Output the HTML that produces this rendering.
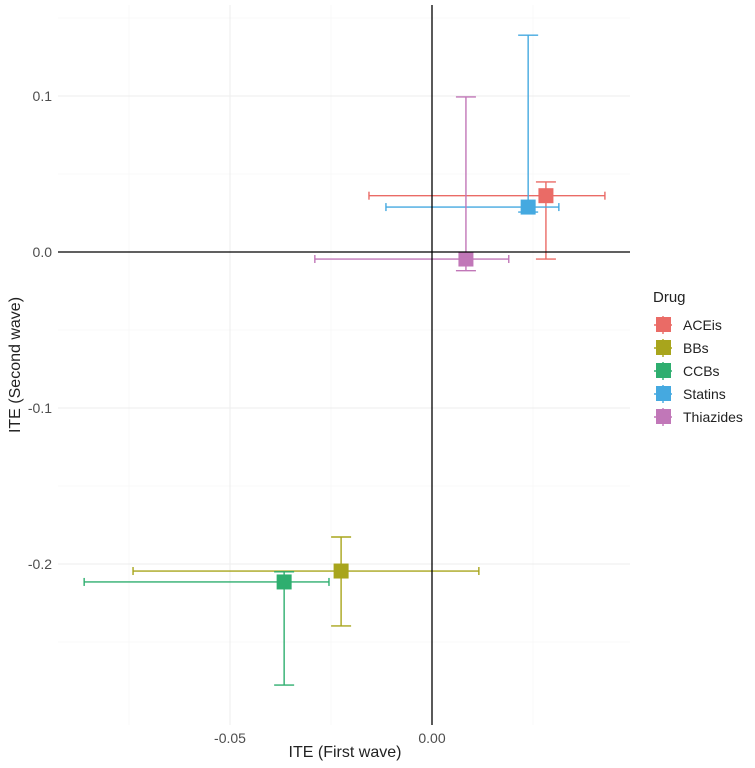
<!DOCTYPE html>
<html><head><meta charset="utf-8"><style>
body{margin:0;background:#fff;font-family:"Liberation Sans",sans-serif}
</style></head><body>
<svg id="chart" width="755" height="763" xmlns="http://www.w3.org/2000/svg">
<g id="grid"></g>
<g id="marks"></g>
<g id="axes"></g>
<text x="345" y="757" text-anchor="middle" font-size="16" fill="#222">ITE (First wave)</text>
<text transform="translate(20,365) rotate(-90)" text-anchor="middle" font-size="16" fill="#222">ITE (Second wave)</text>
<g id="legend"></g>
</svg>
<script>
const drugs=["ACEis","BBs","CCBs","Statins","Thiazides"];
const colors=["#EA6B66","#A8A51C","#2EAE6F","#45A9E0","#C177B8"];
const xVal=[0.0282,-0.0225,-0.0366,0.0238,0.0084];
const xLo=[-0.0156,-0.074,-0.0861,-0.0114,-0.029];
const xHi=[0.0428,0.0116,-0.0255,0.0314,0.019];
const yVal=[0.0361,-0.2045,-0.2115,0.0288,-0.0045];
const yLo=[-0.0045,-0.2397,-0.2776,0.0256,-0.012];
const yHi=[0.0449,-0.1827,-0.205,0.139,0.0994];
const xTicks=[-0.05,0.00];
const xTickLabels=["-0.05","0.00"];
const xMinor=[-0.075,-0.025,0.025];
const yTicks=[0.1,0.0,-0.1,-0.2];
const yTickLabels=["0.1","0.0","-0.1","-0.2"];
const yMinor=[0.15,0.05,-0.05,-0.15,-0.25];

const X=v=>432+v*4040, Y=v=>252-v*1560;
const L=58,R=630,T=5,B=725;
const NS="http://www.w3.org/2000/svg";
function mk(p,t,a){const e=document.createElementNS(NS,t);for(const k in a)e.setAttribute(k,a[k]);p.appendChild(e);return e;}
const grid=document.getElementById('grid'),axes=document.getElementById('axes'),marks=document.getElementById('marks'),leg=document.getElementById('legend');
xMinor.forEach(v=>{const e=mk(grid,'line',{x1:X(v),x2:X(v),y1:T,y2:B,stroke:'#f4f4f4','stroke-width':0.6});

});
yMinor.forEach(v=>{const e=mk(grid,'line',{x1:L,x2:R,y1:Y(v),y2:Y(v),stroke:'#f4f4f4','stroke-width':0.6});

});
xTicks.forEach((v,i)=>{const e=mk(grid,'line',{x1:X(v),x2:X(v),y1:T,y2:B,stroke:'#ededed','stroke-width':1});


const t=mk(axes,'text',{x:X(v),y:743,'text-anchor':'middle','font-size':14,fill:'#4d4d4d'});t.textContent=xTickLabels[i];

});
yTicks.forEach((v,i)=>{const e=mk(grid,'line',{x1:L,x2:R,y1:Y(v),y2:Y(v),stroke:'#ededed','stroke-width':1});


const t=mk(axes,'text',{x:52,y:Y(v)+5,'text-anchor':'end','font-size':14,fill:'#4d4d4d'});t.textContent=yTickLabels[i];

});
const h=mk(axes,'line',{x1:L,x2:R,y1:Y(0),y2:Y(0),stroke:'#000','stroke-width':1.3});


const vl=mk(axes,'line',{x1:X(0),x2:X(0),y1:T,y2:B,stroke:'#000','stroke-width':1.3});


drugs.forEach((d,i)=>{const g=mk(marks,'g',{stroke:colors[i],'stroke-width':1.4,fill:'none'});


const cx=X(xVal[i]),cy=Y(yVal[i]);
mk(g,'line',{x1:X(xLo[i]),x2:X(xHi[i]),y1:cy,y2:cy});
mk(g,'line',{x1:X(xLo[i]),x2:X(xLo[i]),y1:cy-4,y2:cy+4});
mk(g,'line',{x1:X(xHi[i]),x2:X(xHi[i]),y1:cy-4,y2:cy+4});
mk(g,'line',{x1:cx,x2:cx,y1:Y(yLo[i]),y2:Y(yHi[i])});
mk(g,'line',{x1:cx-10,x2:cx+10,y1:Y(yLo[i]),y2:Y(yLo[i])});
mk(g,'line',{x1:cx-10,x2:cx+10,y1:Y(yHi[i]),y2:Y(yHi[i])});
const r=mk(g,'rect',{x:cx-7.5,y:cy-7.5,width:15,height:15,fill:colors[i],stroke:'none'});


const ly=325+i*23;
const lg=mk(leg,'g',{});


mk(lg,'line',{x1:654,x2:672,y1:ly,y2:ly,stroke:colors[i],'stroke-width':1.4});
mk(lg,'line',{x1:663,x2:663,y1:ly-9,y2:ly+9,stroke:colors[i],'stroke-width':1.4});
mk(lg,'rect',{x:656,y:ly-8,width:15,height:15,fill:colors[i]});
const t=mk(lg,'text',{x:683,y:ly+5,'font-size':14,fill:'#222'});t.textContent=d;});
const lt=mk(leg,'text',{x:653,y:302,'font-size':15,fill:'#222'});lt.textContent='Drug';


</script>
</body></html>
